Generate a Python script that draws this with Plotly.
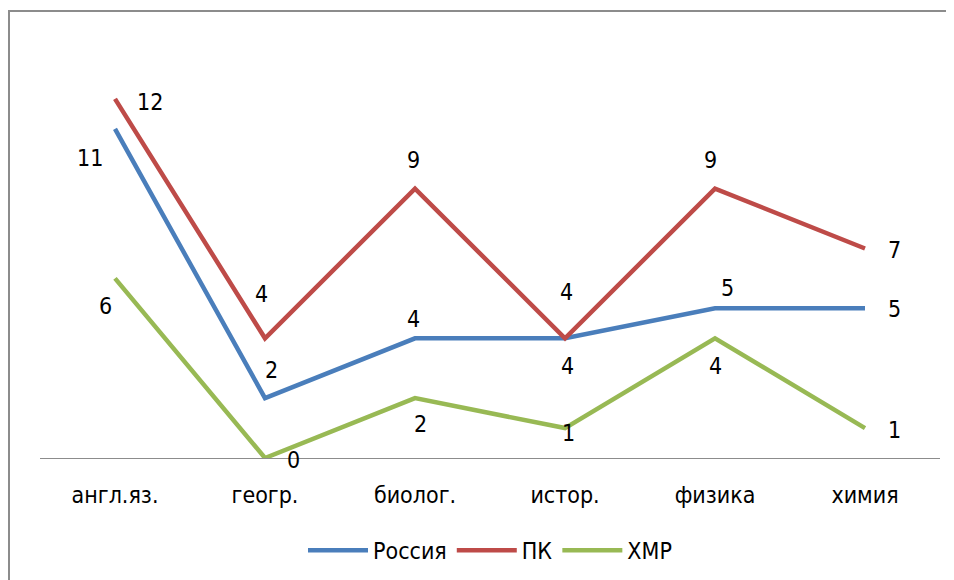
import plotly.graph_objects as go

categories = ["англ.яз.", "геогр.", "биолог.", "истор.", "физика", "химия"]
russia = [11, 2, 4, 4, 5, 5]
pk = [12, 4, 9, 4, 9, 7]
hmr = [6, 0, 2, 1, 4, 1]

FONT = "DejaVu Sans Condensed, Liberation Sans Narrow, Open Sans, sans-serif"
FS = 23

# label pixel offsets (dx, dy) relative to each point; dy positive = up
series = [
    ("Россия", russia, "#4A7EBB",
     [(-25, -29), (6, 28), (-2, 19), (2, -28), (12, 20), (29, -1)]),
    ("ПК", pk, "#BE4B48",
     [(35, -3), (-4, 44), (-2, 29), (1, 46), (-5, 29), (29, -1)]),
    ("ХМР", hmr, "#98B954",
     [(-10, -28), (28, -2), (5, -26), (3, -5), (0, -28), (29, -2)]),
]

fig = go.Figure()
annotations = []
for name, vals, color, offs in series:
    xs = list(range(len(categories)))
    fig.add_trace(go.Scatter(
        x=xs, y=vals, name=name, mode="lines",
        line=dict(color=color, width=4.5), cliponaxis=False,
    ))
    for xi, v, (dx, dy) in zip(xs, vals, offs):
        annotations.append(dict(x=xi, y=v, xref="x", yref="y", text=str(v),
                                showarrow=False, xshift=dx, yshift=dy,
                                font=dict(size=FS, color="#000000", family=FONT)))

fig.update_layout(
    width=954, height=580,
    margin=dict(l=32, r=22, t=31, b=130),
    paper_bgcolor="white", plot_bgcolor="white",
    font=dict(family=FONT, size=FS, color="#000000"),
    showlegend=True,
    legend=dict(orientation="h", x=0.5, xanchor="center", y=-0.22, yanchor="middle",
                font=dict(size=FS, family=FONT), traceorder="normal", itemwidth=60),
    xaxis=dict(range=[-0.5, 5.5], tickmode="array", tickvals=list(range(len(categories))),
               ticktext=categories, showgrid=False, zeroline=False,
               showline=True, linecolor="#8C8C8C", linewidth=1, ticks="",
               ticklabelstandoff=16, tickfont=dict(size=FS, family=FONT)),
    yaxis=dict(range=[0, 14], visible=False, showgrid=False, zeroline=False),
    annotations=annotations,
    shapes=[dict(type="rect", xref="paper", yref="paper",
                 x0=-31/900, x1=1.08, y0=-0.45, y1=(458-11)/419,
                 line=dict(color="#8C8C8C", width=2), fillcolor="rgba(0,0,0,0)")],
)

fig.write_html("out.html")
